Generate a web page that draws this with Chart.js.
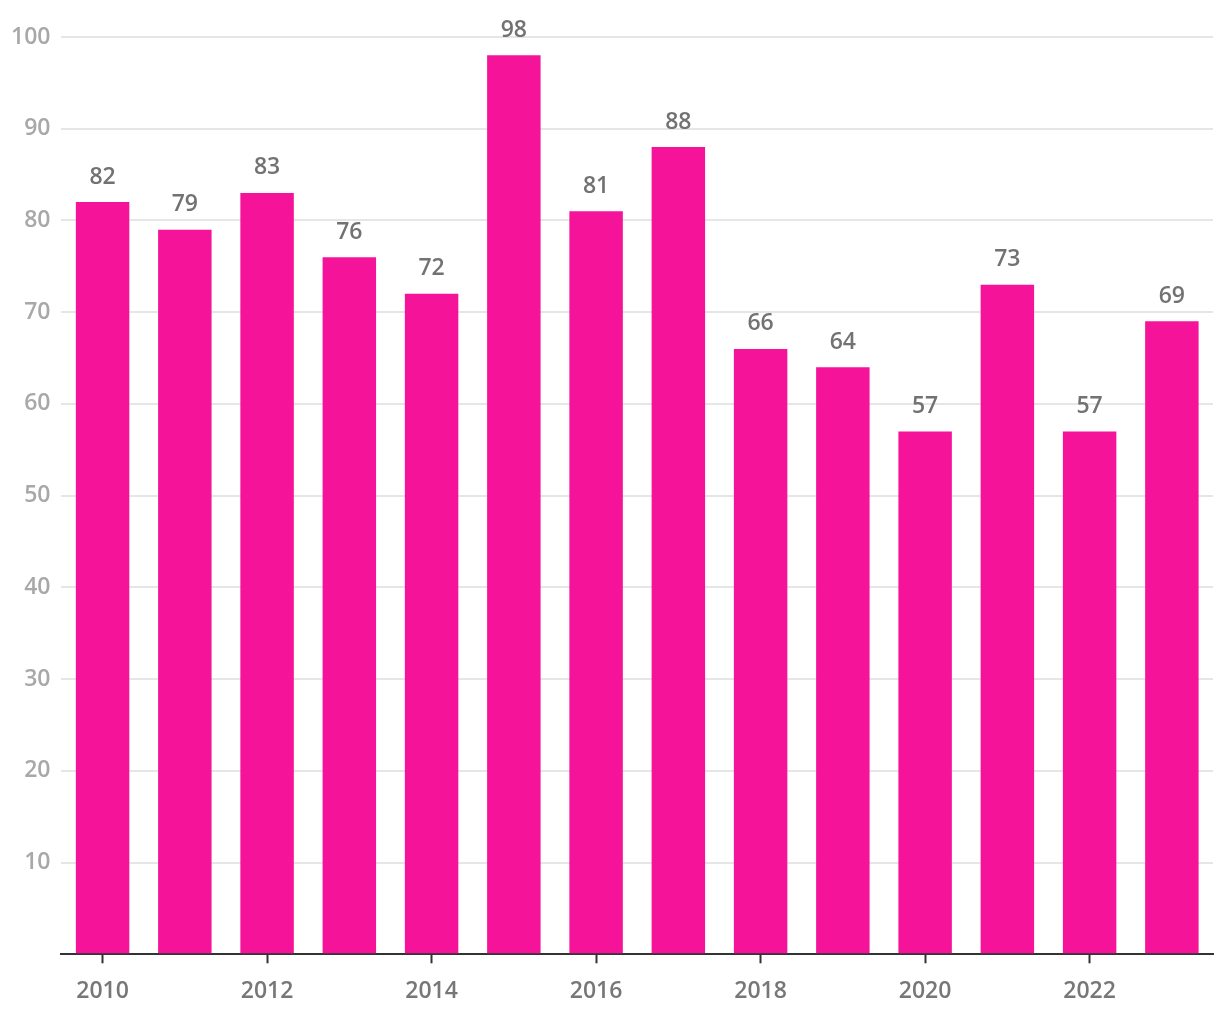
<!DOCTYPE html>
<html>
<head>
<meta charset="utf-8">
<script src="https://cdn.jsdelivr.net/npm/chart.js@4/dist/chart.umd.min.js"></script>
<style>
html,body{margin:0;padding:0;background:#fff;}
#wrap{width:1220px;height:1020px;}
</style>
</head>
<body>
<div id="wrap"><canvas id="c" width="1220" height="1020"></canvas></div>
<script>
const years = ["2010","2011","2012","2013","2014","2015","2016","2017","2018","2019","2020","2021","2022","2023"];
const values = [82,79,83,76,72,98,81,88,66,64,57,73,57,69];
const yTicks = [0,10,20,30,40,50,60,70,80,90,100];

const valueLabels = {
  id: 'valueLabels',
  afterDatasetsDraw(chart) {
    const ctx = chart.ctx;
    const meta = chart.getDatasetMeta(0);
    ctx.save();
    ctx.font = '600 23px "Open Sans"';
    ctx.fillStyle = '#727272';
    ctx.textAlign = 'center';
    ctx.textBaseline = 'middle';
    meta.data.forEach((bar, i) => {
      ctx.fillText(String(values[i]), bar.x, bar.y - 25);
    });
    ctx.restore();
  }
};

new Chart(document.getElementById('c'), {
  type: 'bar',
  data: {
    labels: years,
    datasets: [{
      data: values,
      backgroundColor: '#f5139a',
      categoryPercentage: 0.65,
      barPercentage: 1.0
    }]
  },
  options: {
    responsive: false,
    animation: false,
    layout: { padding: { top: 37, right: 7, left: 0, bottom: 0 } },
    plugins: { legend: { display: false }, tooltip: { enabled: false } },
    scales: {
      x: {
        grid: {
          offset: false, drawOnChartArea: false, drawTicks: true, tickLength: 9, tickWidth: 2,
          tickColor: (c) => (c.index % 2 === 0 ? '#333' : 'rgba(0,0,0,0)')
        },
        border: { color: '#333', width: 2 },
        ticks: {
          autoSkip: false, maxRotation: 0, padding: 18,
          color: '#777', font: { family: 'Open Sans', size: 23, weight: '600', lineHeight: 0.9 },
          callback: function(v, i) { return i % 2 === 0 ? years[i] : ''; }
        }
      },
      y: {
        min: 0, max: 100,
        afterBuildTicks: function(axis) { axis.ticks = yTicks.map(v => ({ value: v })); },
        grid: { color: '#e6e6e6', lineWidth: 2, drawTicks: false },
        border: { display: false },
        ticks: {
          padding: 11,
          color: '#a8a8a8', font: { family: 'Open Sans', size: 23, weight: '600' },
          callback: function(v) { return v === 0 ? '' : String(v); }
        }
      }
    }
  },
  plugins: [valueLabels]
});
</script>
</body>
</html>
